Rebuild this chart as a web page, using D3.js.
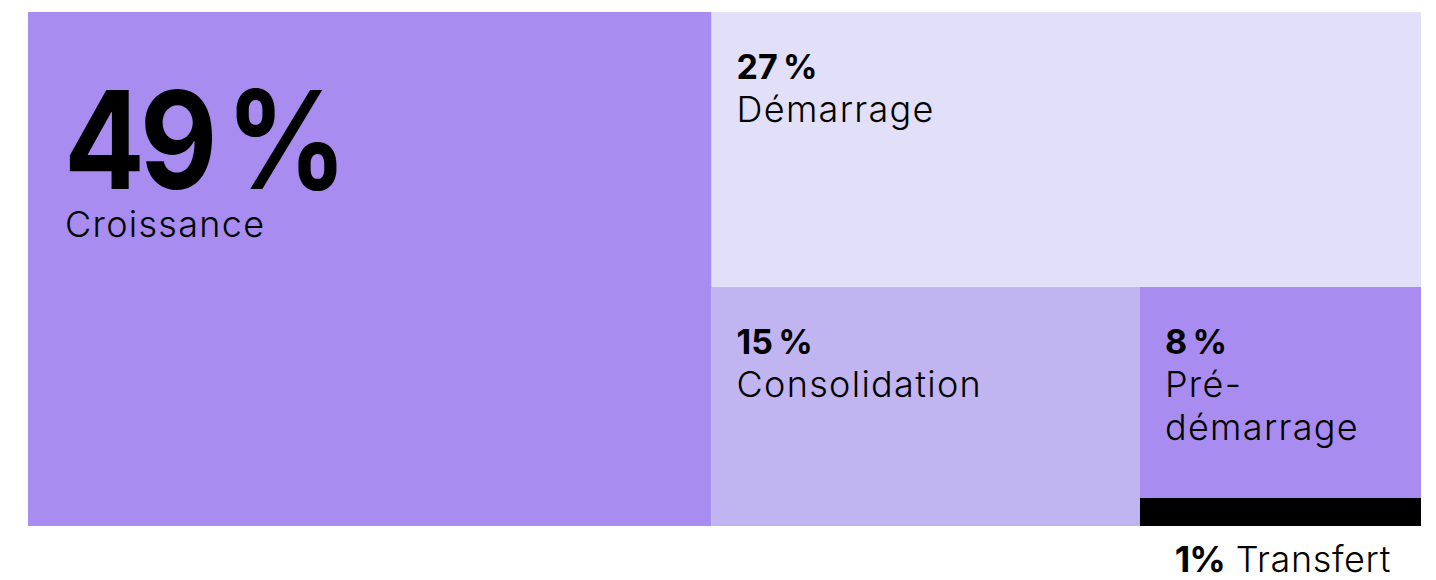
<!DOCTYPE html>
<html><head><meta charset="utf-8">
<script src="https://cdn.jsdelivr.net/npm/d3@7"></script>
<style>
html,body{margin:0;padding:0;background:#fff;}
svg{display:block;font-family:Inter,"Noto Sans",sans-serif;}
</style></head>
<body><svg id="chart" width="1436" height="580"></svg>
<script>
// Categories, printed percentages and tile areas (areas)
const categories = ["Croissance", "Démarrage", "Consolidation", "Pré-démarrage", "Transfert"];
const percents   = [49, 27, 15, 8, 1];
const areas      = [49.07, 27.25, 14.30, 8.28, 1.10];
const labelLines = [["Croissance"], ["Démarrage"], ["Consolidation"], ["Pré-", "démarrage"], ["Transfert"]];
const colors     = ["#a88cf0", "#e2dff8", "#c0b4f1", "#a88cf0", "#000000"];

const box = {x0: 28, y0: 12, x1: 1421, y1: 526};

// nested structure: each level splits off one category, alternating direction
function nest(i){
  if (i === categories.length - 1) return {idx: i, value: areas[i]};
  return {children: [{idx: i, value: areas[i]}, nest(i + 1)]};
}
const root = d3.hierarchy(nest(0)).sum(d => d.value || 0);
d3.treemap()
  .tile(d3.treemapSliceDice)
  .size([box.x1 - box.x0, box.y1 - box.y0])
  .round(false)(root);

const svg = d3.select("#chart");
const g = svg.append("g").attr("transform", `translate(${box.x0},${box.y0})`);
const leaves = root.leaves();

g.selectAll("rect").data(leaves).join("rect")
  .attr("x", d => d.x0).attr("y", d => d.y0)
  .attr("width", d => d.x1 - d.x0).attr("height", d => d.y1 - d.y0)
  .attr("fill", d => colors[d.data.idx]);

const TS = "\u2009";
const NB = "\u202F";
const labelStyle = t => t.attr("font-size", 36).attr("font-weight", 300)
  .attr("letter-spacing", 1.3).attr("fill", "#000");

leaves.forEach(d => {
  const i = d.data.idx;
  if (i === 0) {
    g.append("g").attr("transform", `translate(${d.x0 + 36},${d.y0 + 177}) scale(0.88,1)`)
      .append("text").attr("x", 0).attr("y", 0)
      .attr("font-size", 136).attr("font-weight", 700).attr("letter-spacing", -6)
      .attr("fill", "#000").text(percents[i] + TS + "%");
    labelStyle(g.append("text").attr("x", d.x0 + 37).attr("y", d.y0 + 225))
      .text(labelLines[i][0]);
  } else if (i === categories.length - 1) {
    const t = g.append("text").attr("x", d.x1 - 30).attr("y", d.y1 + 46)
      .attr("text-anchor", "end").attr("font-size", 36).attr("fill", "#000");
    t.append("tspan").attr("font-weight", 700).attr("letter-spacing", -1).text(percents[i] + "%");
    t.append("tspan").attr("font-weight", 300).attr("letter-spacing", 0.6).text(" " + labelLines[i][0]);
  } else {
    g.append("text").attr("x", d.x0 + 25).attr("y", d.y0 + 67)
      .attr("font-size", 34).attr("font-weight", 700).attr("letter-spacing", -1)
      .attr("fill", "#000").text(percents[i] + NB + "%");
    labelLines[i].forEach((ln, k) => {
      labelStyle(g.append("text").attr("x", d.x0 + 25).attr("y", d.y0 + 110 + k * 43))
        .text(ln);
    });
  }
});
</script></body></html>
